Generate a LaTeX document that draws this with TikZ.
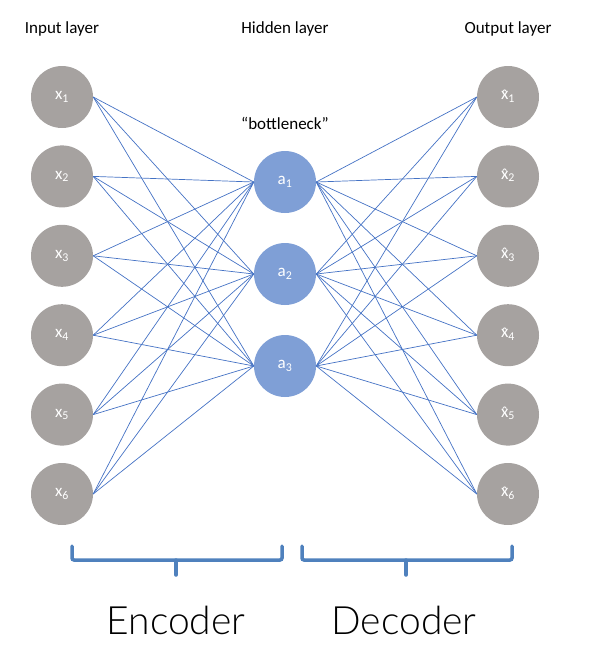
\documentclass[tikz,border=0pt]{standalone}
\usepackage{fontspec}
\setmainfont{Carlito}
\newfontfamily\thinFont{Lato Light}
\usepackage{tikz}
\usetikzlibrary{positioning}
\definecolor{nodeGray}{RGB}{166,162,160}
\definecolor{hiddenBlue}{RGB}{127,159,214}
\definecolor{edgeBlue}{RGB}{68,114,196}
\definecolor{braceBlue}{RGB}{79,129,189}
\tikzstyle{pixelGrid} = [x = 1pt, y = -1pt]
\tikzstyle{neuron} = [circle, minimum size = 62pt, inner sep = 0pt, text = white, font = \fontsize{17}{20}\selectfont]
\tikzstyle{outerNeuron} = [neuron, fill = nodeGray]
\tikzstyle{hiddenNeuron} = [neuron, fill = hiddenBlue]
\tikzstyle{edgeLine} = [color = edgeBlue, line width = .7pt]
\tikzstyle{braceLine} = [color = braceBlue, line width = 3.5pt, rounded corners = 2pt, line cap = round]
\tikzstyle{layerText} = [font = \fontsize{17}{20}\selectfont]
\tikzstyle{partText} = [font = \thinFont\fontsize{39}{46}\selectfont]
\newcommand{\hatX}{{\ooalign{x\cr\hidewidth\raisebox{-.08em}{ˆ}\hidewidth\cr}}}
\newcommand{\partBrace}[3]{
  \draw [braceLine] (#1, 546) -- (#1, 560) -- (#2, 560) -- (#2, 546);
  \draw [braceLine] (#3, 560) -- (#3, 575);
}

\begin{document}
\begin{tikzpicture}[pixelGrid]
  \useasboundingbox (0, 0) rectangle (598, 664);

  % layer titles
  \node [layerText] (inTitle) at (62, 29) {Input layer};
  \node [layerText] (hidTitle) at (285, 29) {Hidden layer};
  \node [layerText] (outTitle) at (508, 29) {Output layer};
  \node [layerText] (neck) at (285, 123) {“bottleneck”};

  % neurons
  \foreach \i in {1,...,6} {
    \node [outerNeuron] (x\i) at (62, 97 + 79.4 * \i - 79.4) {x\textsubscript{\i}};
    \node [outerNeuron] (y\i) at (508, 97 + 79.4 * \i - 79.4) {\hatX\textsubscript{\i}};
  }
  \foreach \j in {1,2,3} {
    \node [hiddenNeuron] (a\j) at (285, 182 + 92 * \j - 92) {a\textsubscript{\j}};
  }

  % connections
  \foreach \i in {1,...,6} {
    \foreach \j in {1,2,3} {
      \draw [edgeLine] (x\i.east) -- (a\j.west);
      \draw [edgeLine] (a\j.east) -- (y\i.west);
    }
  }

  % braces
  \partBrace{72}{282}{176}
  \partBrace{302}{512}{406}
  \node [partText] (enc) at (176, 620) {Encoder};
  \node [partText] (dec) at (404, 620) {Decoder};
\end{tikzpicture}
\end{document}
